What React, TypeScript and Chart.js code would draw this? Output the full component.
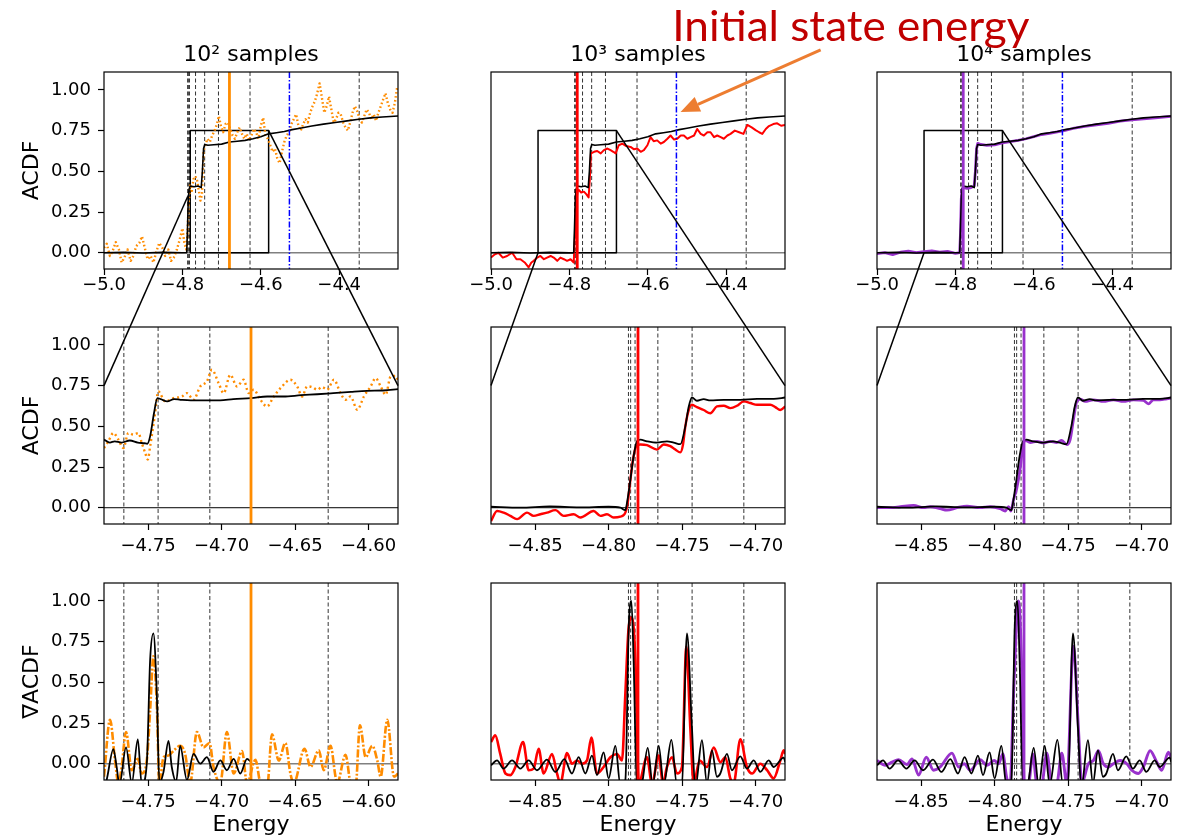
import React, { useEffect, useRef } from "react";
import { Chart, registerables } from "chart.js";

Chart.register(...registerables);
Chart.defaults.font.family = "'DejaVu Sans', sans-serif";
Chart.defaults.color = "#000";

type Pair = [number, number];

// ---------------- text / ticks ----------------
const TITLES = ["10\u00b2 samples", "10\u00b3 samples", "10\u2074 samples"];
const Y_LABELS = ["ACDF", "ACDF", "\u2207ACDF"];
const X_LABEL = "Energy";
const ANNOTATION = "Initial state energy";
const Y_TICKS = [0, 0.25, 0.5, 0.75, 1.0];
const TOP_X_TICKS = [-5.0, -4.8, -4.6, -4.4];
const LEFT_ZOOM_X_TICKS = [-4.75, -4.7, -4.65, -4.6];
const RIGHT_ZOOM_X_TICKS = [-4.85, -4.8, -4.75, -4.7];

// ---------------- ranges / reference energies ----------------
const TOP_RANGE = [-5.0, -4.25];
const ZOOM_RANGES = [
  [-4.78, -4.58],
  [-4.88, -4.68],
  [-4.88, -4.68],
];
const Y_RANGE = [-0.1, 1.11];
const BOX_TOP = 0.75;
const EIGENVALUES = [-4.7865, -4.785, -4.782, -4.7665, -4.7432, -4.708, -4.6275, -4.349];
const INITIAL_STATE_ENERGY = -4.527;
const ESTIMATES = [-4.68, -4.78, -4.78];
const COLORS = ["#ff8c00", "#ff0000", "#9932cc"];
const CONNECT_FROM: Pair[] = [
  [-4.7865, 0.345],
  [-4.88, 0],
  [-4.88, 0],
];
const ARROW_TAIL: Pair = [-4.159, 1.2465];
const ARROW_TIP: Pair = [-4.5165, 0.8645];
const ANNOT_AT: Pair = [-4.082, 1.2976];

// ---------------- top row ----------------
const TOP_EXACT: Pair[] = [
  [-5.0, 0], [-4.95, 0.002], [-4.9, -0.002], [-4.85, 0.002], [-4.8, 0], [-4.789, 0], [-4.787, 0.15],
  [-4.785, 0.33], [-4.783, 0.39], [-4.78, 0.41], [-4.77, 0.405], [-4.76, 0.41], [-4.752, 0.4],
  [-4.749, 0.5], [-4.746, 0.64], [-4.743, 0.665], [-4.735, 0.66], [-4.72, 0.663], [-4.7, 0.667],
  [-4.68, 0.68], [-4.66, 0.685], [-4.64, 0.69], [-4.62, 0.7], [-4.6, 0.712], [-4.58, 0.73],
  [-4.56, 0.737], [-4.54, 0.745], [-4.52, 0.756], [-4.5, 0.765], [-4.47, 0.778], [-4.44, 0.79],
  [-4.41, 0.8], [-4.38, 0.81], [-4.35, 0.82], [-4.32, 0.828], [-4.29, 0.834], [-4.25, 0.84],
];

const TOP_ORANGE: Pair[] = [
  [-5.0, 0.03], [-4.993, 0.055], [-4.985, -0.02], [-4.978, 0.01], [-4.97, 0.065], [-4.962, 0.02],
  [-4.955, -0.06], [-4.948, -0.03], [-4.94, 0.02], [-4.932, -0.05], [-4.925, -0.02], [-4.918, 0.04],
  [-4.91, 0.06], [-4.903, 0.1], [-4.896, 0.03], [-4.889, -0.04], [-4.881, -0.02], [-4.874, -0.06],
  [-4.866, 0.01], [-4.859, 0.06], [-4.851, 0.03], [-4.844, -0.02], [-4.836, 0.02], [-4.829, -0.05],
  [-4.822, -0.03], [-4.814, 0.02], [-4.807, 0.08], [-4.8, 0.15], [-4.795, 0.06], [-4.79, 0.02],
  [-4.787, 0.12], [-4.784, 0.3], [-4.78, 0.42], [-4.776, 0.38], [-4.772, 0.45], [-4.767, 0.47],
  [-4.762, 0.44], [-4.758, 0.38], [-4.754, 0.32], [-4.75, 0.36], [-4.746, 0.62], [-4.742, 0.66],
  [-4.736, 0.7], [-4.73, 0.68], [-4.724, 0.72], [-4.718, 0.75], [-4.712, 0.79], [-4.707, 0.84],
  [-4.702, 0.78], [-4.696, 0.74], [-4.69, 0.79], [-4.684, 0.8], [-4.678, 0.76], [-4.672, 0.72],
  [-4.666, 0.7], [-4.66, 0.74], [-4.654, 0.77], [-4.648, 0.73], [-4.642, 0.7], [-4.636, 0.73],
  [-4.63, 0.69], [-4.624, 0.72], [-4.618, 0.76], [-4.612, 0.74], [-4.606, 0.7], [-4.6, 0.78],
  [-4.594, 0.83], [-4.588, 0.72], [-4.582, 0.7], [-4.576, 0.66], [-4.57, 0.62], [-4.564, 0.64],
  [-4.558, 0.58], [-4.552, 0.55], [-4.546, 0.62], [-4.54, 0.68], [-4.534, 0.72], [-4.528, 0.74],
  [-4.522, 0.79], [-4.516, 0.82], [-4.51, 0.85], [-4.504, 0.78], [-4.498, 0.75], [-4.492, 0.79],
  [-4.486, 0.82], [-4.48, 0.8], [-4.474, 0.86], [-4.468, 0.9], [-4.462, 0.93], [-4.456, 0.98],
  [-4.45, 1.04], [-4.444, 0.95], [-4.438, 0.86], [-4.432, 0.9], [-4.426, 0.96], [-4.42, 0.88],
  [-4.414, 0.8], [-4.408, 0.82], [-4.402, 0.86], [-4.396, 0.85], [-4.39, 0.8], [-4.384, 0.77],
  [-4.378, 0.75], [-4.372, 0.8], [-4.366, 0.86], [-4.36, 0.9], [-4.354, 0.87], [-4.348, 0.82],
  [-4.342, 0.8], [-4.336, 0.84], [-4.33, 0.88], [-4.324, 0.86], [-4.318, 0.82], [-4.312, 0.85],
  [-4.306, 0.81], [-4.3, 0.86], [-4.294, 0.9], [-4.288, 0.94], [-4.282, 0.98], [-4.276, 0.92],
  [-4.27, 0.88], [-4.264, 0.86], [-4.258, 0.92], [-4.252, 1.02],
];

const TOP_RED: Pair[] = [
  [-5.0, -0.03], [-4.99, -0.01], [-4.981, 0.0], [-4.97, -0.03], [-4.959, -0.02], [-4.946, 0.0],
  [-4.935, -0.04], [-4.925, -0.04], [-4.914, -0.06], [-4.904, -0.09], [-4.897, -0.06], [-4.891, -0.05],
  [-4.882, -0.03], [-4.874, -0.02], [-4.865, -0.04], [-4.857, -0.03], [-4.848, -0.02], [-4.84, -0.03],
  [-4.831, -0.05], [-4.823, -0.03], [-4.814, -0.04], [-4.806, -0.05], [-4.797, -0.04], [-4.789, -0.06],
  [-4.786, 0.1], [-4.783, 0.3], [-4.779, 0.38], [-4.776, 0.385], [-4.77, 0.37], [-4.763, 0.375],
  [-4.757, 0.36], [-4.751, 0.34], [-4.748, 0.45], [-4.745, 0.61], [-4.737, 0.62], [-4.729, 0.625],
  [-4.72, 0.61], [-4.712, 0.63], [-4.703, 0.64], [-4.695, 0.63], [-4.688, 0.62], [-4.682, 0.61],
  [-4.674, 0.66], [-4.665, 0.67], [-4.655, 0.655], [-4.644, 0.65], [-4.635, 0.635], [-4.627, 0.64],
  [-4.618, 0.62], [-4.61, 0.63], [-4.601, 0.66], [-4.593, 0.71], [-4.585, 0.685], [-4.576, 0.69],
  [-4.567, 0.67], [-4.559, 0.68], [-4.55, 0.7], [-4.542, 0.72], [-4.533, 0.695], [-4.525, 0.7],
  [-4.516, 0.72], [-4.508, 0.72], [-4.499, 0.7], [-4.491, 0.71], [-4.482, 0.72], [-4.474, 0.76],
  [-4.465, 0.73], [-4.457, 0.72], [-4.448, 0.74], [-4.44, 0.74], [-4.431, 0.71], [-4.423, 0.72],
  [-4.414, 0.71], [-4.406, 0.7], [-4.397, 0.72], [-4.389, 0.73], [-4.378, 0.75], [-4.367, 0.74],
  [-4.356, 0.73], [-4.346, 0.785], [-4.335, 0.77], [-4.325, 0.753], [-4.316, 0.74], [-4.308, 0.73],
  [-4.299, 0.76], [-4.291, 0.778], [-4.28, 0.79], [-4.27, 0.795], [-4.26, 0.78], [-4.25, 0.785],
];

const TOP_PURPLE: Pair[] = [
  [-5.0, -0.005], [-4.98, 0.0], [-4.96, -0.012], [-4.94, 0.003], [-4.92, 0.01], [-4.9, 0.0],
  [-4.88, 0.006], [-4.86, 0.012], [-4.84, 0.003], [-4.82, 0.008], [-4.8, -0.004], [-4.789, 0.0],
  [-4.787, 0.12], [-4.785, 0.33], [-4.783, 0.39], [-4.78, 0.4], [-4.77, 0.395], [-4.76, 0.4],
  [-4.752, 0.41], [-4.749, 0.5], [-4.746, 0.64], [-4.743, 0.672], [-4.735, 0.665], [-4.72, 0.66],
  [-4.7, 0.662], [-4.68, 0.675], [-4.66, 0.683], [-4.64, 0.69], [-4.62, 0.7], [-4.6, 0.713],
  [-4.58, 0.726], [-4.56, 0.733], [-4.54, 0.742], [-4.52, 0.752], [-4.5, 0.763], [-4.47, 0.776],
  [-4.44, 0.786], [-4.41, 0.795], [-4.38, 0.808], [-4.35, 0.816], [-4.32, 0.822], [-4.29, 0.828],
  [-4.27, 0.833], [-4.25, 0.838],
];

// ---------------- middle row ----------------
const MID_LEFT_EXACT: Pair[] = [
  [-4.78, 0.418], [-4.776, 0.4], [-4.7727, 0.408], [-4.768, 0.4], [-4.7625, 0.413], [-4.757, 0.4],
  [-4.7525, 0.396], [-4.7505, 0.393], [-4.7486, 0.44], [-4.746, 0.58], [-4.7437, 0.673],
  [-4.7414, 0.667], [-4.737, 0.653], [-4.7323, 0.667], [-4.728, 0.663], [-4.721, 0.659],
  [-4.71, 0.659], [-4.701, 0.659], [-4.692, 0.667], [-4.68, 0.673], [-4.669, 0.683], [-4.658, 0.683],
  [-4.646, 0.691], [-4.635, 0.697], [-4.624, 0.704], [-4.612, 0.712], [-4.601, 0.718], [-4.59, 0.72],
  [-4.58, 0.728],
];

const MID_LEFT_ORANGE: Pair[] = [
  [-4.78, 0.367], [-4.777, 0.408], [-4.7736, 0.459], [-4.7702, 0.418], [-4.7668, 0.367],
  [-4.7634, 0.459], [-4.76, 0.449], [-4.7566, 0.459], [-4.7543, 0.398], [-4.752, 0.337],
  [-4.7502, 0.296], [-4.7486, 0.378], [-4.7457, 0.55], [-4.743, 0.714], [-4.7384, 0.653],
  [-4.7327, 0.673], [-4.727, 0.683], [-4.7236, 0.704], [-4.7191, 0.663], [-4.7145, 0.745],
  [-4.71, 0.776], [-4.7066, 0.847], [-4.702, 0.765], [-4.6986, 0.704], [-4.6941, 0.816],
  [-4.6895, 0.745], [-4.685, 0.786], [-4.6816, 0.704], [-4.6782, 0.725], [-4.6736, 0.663],
  [-4.6691, 0.622], [-4.6645, 0.683], [-4.6589, 0.745], [-4.6532, 0.786], [-4.6486, 0.745],
  [-4.6452, 0.683], [-4.6418, 0.745], [-4.6384, 0.741], [-4.635, 0.725], [-4.6316, 0.741],
  [-4.6282, 0.725], [-4.6236, 0.786], [-4.6191, 0.704], [-4.6157, 0.663], [-4.6123, 0.683],
  [-4.6077, 0.602], [-4.6032, 0.683], [-4.5986, 0.745], [-4.5952, 0.796], [-4.5918, 0.745],
  [-4.5884, 0.694], [-4.585, 0.806], [-4.5816, 0.81], [-4.5793, 0.765],
];

const MID_EXACT: Pair[] = [
  [-4.88, 0.006], [-4.86, 0.0], [-4.84, 0.008], [-4.82, 0.002], [-4.8, 0.006], [-4.792, 0.0],
  [-4.7886, -0.015], [-4.7875, 0.03], [-4.7852, 0.17], [-4.783, 0.316], [-4.7807, 0.408],
  [-4.7784, 0.418], [-4.7739, 0.408], [-4.767, 0.4], [-4.7603, 0.408], [-4.7557, 0.4],
  [-4.7512, 0.39], [-4.7478, 0.5], [-4.7455, 0.62], [-4.7433, 0.677], [-4.7399, 0.657],
  [-4.7353, 0.667], [-4.7308, 0.659], [-4.7217, 0.663], [-4.7104, 0.663], [-4.699, 0.669],
  [-4.6876, 0.669], [-4.6798, 0.677],
];

const MID_RED: Pair[] = [
  [-4.88, -0.082], [-4.8759, -0.02], [-4.8714, -0.03], [-4.8668, -0.05], [-4.8623, -0.07],
  [-4.8555, -0.03], [-4.851, -0.05], [-4.8464, -0.04], [-4.8419, -0.03], [-4.8362, -0.015],
  [-4.8306, -0.05], [-4.8238, -0.04], [-4.8192, -0.06], [-4.8102, -0.02], [-4.8056, -0.05],
  [-4.8011, -0.04], [-4.7966, -0.06], [-4.792, -0.055], [-4.7886, -0.03], [-4.787, 0.03],
  [-4.7852, 0.17], [-4.7834, 0.296], [-4.7811, 0.378], [-4.7784, 0.388], [-4.7739, 0.384],
  [-4.7671, 0.357], [-4.7625, 0.388], [-4.758, 0.378], [-4.7546, 0.357], [-4.7512, 0.34],
  [-4.7494, 0.387], [-4.7478, 0.5], [-4.7455, 0.6], [-4.7433, 0.632], [-4.7399, 0.618],
  [-4.7353, 0.6], [-4.7308, 0.58], [-4.7263, 0.622], [-4.7217, 0.626], [-4.7172, 0.612],
  [-4.7127, 0.626], [-4.7081, 0.653], [-4.7036, 0.643], [-4.699, 0.632], [-4.6945, 0.632],
  [-4.69, 0.632], [-4.6866, 0.618], [-4.6832, 0.6], [-4.6798, 0.622],
];

const MID_PURPLE: Pair[] = [
  [-4.88, 0.0], [-4.8709, 0.0], [-4.8641, 0.006], [-4.8551, 0.014], [-4.8483, 0.0], [-4.8438, 0.006],
  [-4.837, -0.006], [-4.8324, -0.015], [-4.8256, 0.0], [-4.8188, 0.01], [-4.8098, 0.0],
  [-4.803, 0.006], [-4.7962, -0.006], [-4.7928, -0.02], [-4.7905, 0.006], [-4.7889, -0.02],
  [-4.7871, 0.05], [-4.7849, 0.12], [-4.7826, 0.24], [-4.7808, 0.377], [-4.7792, 0.414],
  [-4.7758, 0.4], [-4.7713, 0.408], [-4.7667, 0.398], [-4.7622, 0.408], [-4.7577, 0.4],
  [-4.7543, 0.414], [-4.7509, 0.387], [-4.7486, 0.418], [-4.7464, 0.54], [-4.7441, 0.653],
  [-4.7418, 0.667], [-4.7384, 0.653], [-4.7328, 0.663], [-4.726, 0.653], [-4.7192, 0.663],
  [-4.7124, 0.653], [-4.7056, 0.663], [-4.6988, 0.659], [-4.6954, 0.638], [-4.692, 0.663],
  [-4.6875, 0.663], [-4.6829, 0.669], [-4.68, 0.673],
];

// ---------------- bottom row (gradient) ----------------
const BOT_LEFT_EXACT: Pair[] = [
  [-4.78, -0.15], [-4.7782, -0.1], [-4.7736, 0.09], [-4.7714, -0.02], [-4.7695, -0.13],
  [-4.765, 0.1], [-4.7611, -0.12], [-4.757, 0.15], [-4.7543, -0.13], [-4.7509, 0.0],
  [-4.7486, 0.64], [-4.7464, 0.8], [-4.7441, 0.43], [-4.7423, -0.12], [-4.7395, -0.05],
  [-4.7361, 0.14], [-4.7339, -0.02], [-4.7309, -0.11], [-4.7282, 0.11], [-4.7236, -0.1],
  [-4.7191, 0.06], [-4.7145, 0.0], [-4.71, 0.04], [-4.7055, -0.05], [-4.7009, 0.02],
  [-4.6964, -0.04], [-4.6918, 0.03], [-4.6873, -0.06], [-4.6827, 0.03], [-4.68, 0.01],
];

const BOT_LEFT_ORANGE: Pair[] = [
  [-4.78, -0.08], [-4.7759, 0.27], [-4.7725, 0.02], [-4.7702, -0.12], [-4.768, -0.02],
  [-4.765, 0.195], [-4.7611, -0.04], [-4.757, 0.03], [-4.7543, -0.06], [-4.7509, 0.02],
  [-4.7486, 0.33], [-4.7464, 0.66], [-4.7441, 0.37], [-4.7423, -0.12], [-4.7395, 0.04],
  [-4.7361, 0.05], [-4.7327, 0.08], [-4.7282, 0.11], [-4.7248, 0.06], [-4.7214, -0.12],
  [-4.7168, 0.195], [-4.7123, 0.1], [-4.7082, 0.127], [-4.7055, -0.02], [-4.7009, -0.12],
  [-4.6964, 0.195], [-4.6918, -0.06], [-4.6861, 0.078], [-4.6827, -0.12], [-4.677, 0.024],
  [-4.6736, -0.12], [-4.6691, -0.15], [-4.6657, 0.18], [-4.6611, 0.02], [-4.6566, 0.127],
  [-4.6532, -0.06], [-4.6509, -0.12], [-4.6436, 0.092], [-4.6395, -0.02], [-4.6339, 0.082],
  [-4.6305, -0.04], [-4.6259, 0.11], [-4.6225, -0.08], [-4.6214, -0.12], [-4.6157, 0.055],
  [-4.6123, -0.12], [-4.6089, -0.15], [-4.6059, 0.236], [-4.602, 0.04], [-4.5975, 0.11],
  [-4.5941, 0.02], [-4.5918, -0.08], [-4.5873, 0.27], [-4.5827, -0.08], [-4.58, -0.06],
];

const BOT_EXACT: Pair[] = [
  [-4.88, -0.01], [-4.8759, 0.02], [-4.8714, -0.03], [-4.8657, 0.02], [-4.86, -0.03],
  [-4.8544, 0.02], [-4.8487, -0.04], [-4.8419, 0.025], [-4.8362, -0.05], [-4.8301, 0.028],
  [-4.8249, -0.06], [-4.8204, 0.04], [-4.8158, -0.06], [-4.8113, 0.05], [-4.8079, -0.07],
  [-4.8034, 0.07], [-4.8, -0.09], [-4.7954, 0.11], [-4.792, -0.13], [-4.7886, -0.1],
  [-4.7863, 0.84], [-4.7845, 1.0], [-4.783, 0.64], [-4.7807, -0.15], [-4.7773, -0.12],
  [-4.7734, 0.097], [-4.77, -0.13], [-4.7659, 0.11], [-4.7625, -0.13], [-4.7573, 0.147],
  [-4.7535, -0.13], [-4.7501, -0.12], [-4.7467, 0.8], [-4.7433, 0.22], [-4.741, -0.15],
  [-4.7365, 0.144], [-4.7331, -0.12], [-4.7297, 0.082], [-4.7263, -0.08], [-4.724, -0.06],
  [-4.7195, 0.06], [-4.7161, -0.04], [-4.7104, 0.045], [-4.7059, -0.03], [-4.7013, 0.02],
  [-4.6968, -0.05], [-4.6911, 0.02], [-4.6877, -0.02], [-4.6809, 0.037], [-4.6798, 0.01],
];

const BOT_RED: Pair[] = [
  [-4.88, 0.133], [-4.8771, 0.174], [-4.8737, 0.06], [-4.8702, -0.06], [-4.8668, -0.07],
  [-4.8634, -0.02], [-4.8582, 0.133], [-4.8544, -0.04], [-4.851, -0.03], [-4.8476, 0.092],
  [-4.8442, -0.06], [-4.8385, 0.06], [-4.8351, -0.06], [-4.8328, -0.12], [-4.8283, 0.066],
  [-4.8249, 0.0], [-4.8215, 0.02], [-4.8181, 0.0], [-4.8147, 0.02], [-4.8117, 0.16],
  [-4.8079, -0.06], [-4.8034, -0.02], [-4.7988, 0.04], [-4.7943, 0.06], [-4.7909, 0.02],
  [-4.7886, 0.43], [-4.7863, 0.84], [-4.7841, 0.9], [-4.7818, 0.64], [-4.7795, -0.12],
  [-4.7739, 0.04], [-4.7705, -0.12], [-4.7659, 0.05], [-4.763, -0.12], [-4.7603, -0.02],
  [-4.7569, 0.04], [-4.7535, -0.06], [-4.7501, -0.02], [-4.7471, 0.72], [-4.7444, 0.22],
  [-4.7421, -0.12], [-4.7381, 0.02], [-4.7331, -0.02], [-4.7285, 0.1], [-4.724, 0.01],
  [-4.7206, 0.04], [-4.7172, -0.09], [-4.7149, -0.12], [-4.7104, 0.15], [-4.7059, -0.02],
  [-4.7024, -0.06], [-4.6968, 0.0], [-4.6922, -0.04], [-4.6877, -0.09], [-4.6832, 0.02],
  [-4.6809, 0.082], [-4.6798, 0.06],
];

const BOT_PURPLE: Pair[] = [
  [-4.88, 0.02], [-4.8743, -0.01], [-4.8698, 0.01], [-4.8653, 0.025], [-4.8596, -0.005],
  [-4.8562, 0.03], [-4.8517, -0.07], [-4.8465, 0.04], [-4.8415, -0.04], [-4.837, -0.02],
  [-4.829, 0.065], [-4.8245, -0.02], [-4.8207, 0.0], [-4.8166, -0.04], [-4.8098, 0.025],
  [-4.8052, -0.01], [-4.8003, 0.02], [-4.7973, 0.0], [-4.7944, 0.06], [-4.7917, -0.09],
  [-4.7894, -0.12], [-4.7871, 0.43], [-4.7837, 1.0], [-4.7815, 0.575], [-4.7799, -0.12],
  [-4.7769, -0.12], [-4.774, 0.06], [-4.7713, -0.12], [-4.7679, -0.12], [-4.7645, 0.065],
  [-4.7611, -0.12], [-4.7577, -0.12], [-4.7543, 0.065], [-4.7509, -0.12], [-4.7464, 0.72],
  [-4.743, 0.22], [-4.7407, -0.12], [-4.7362, 0.0], [-4.7328, 0.02], [-4.7294, 0.08],
  [-4.726, 0.0], [-4.7226, -0.02], [-4.7192, 0.0], [-4.7146, 0.02], [-4.7101, 0.0],
  [-4.7067, -0.04], [-4.7022, -0.06], [-4.6988, -0.02], [-4.6942, 0.08], [-4.6897, 0.01],
  [-4.6863, -0.04], [-4.6818, 0.07], [-4.68, 0.04],
];

// ---------------- layout (pixels) ----------------
const FIG_W = 1184;
const FIG_H = 838;
const COL_LEFT = [104, 491, 877];
const ROW_TOP = [72, 327, 583];
const PLOT_W = 294;
const PLOT_H = 197;
const Y_AXIS_W = 85;
const X_AXIS_H = [34, 34, 58];
const X_TICK_PAD = [0, 6, 6];

interface Series {
  data: Pair[];
  color: string;
  width: number;
  dash?: number[];
  smooth?: boolean;
}
interface Panel {
  row: number;
  col: number;
  xRange: number[];
  xTicks: number[];
  xDec: number;
  series: Series[];
}

const BLACK = "#000000";

function buildPanels(): Panel[] {
  const [orange, red, purple] = COLORS;
  const box = (c: number): Pair[] => {
    const [a, b] = ZOOM_RANGES[c];
    return [[a, 0], [b, 0], [b, BOX_TOP], [a, BOX_TOP], [a, 0]];
  };
  const topColored: Series[] = [
    { data: TOP_ORANGE, color: orange, width: 2.4, dash: [1.6, 2.4] },
    { data: TOP_RED, color: red, width: 2.0 },
    { data: TOP_PURPLE, color: purple, width: 2.8 },
  ];
  const midExact = [MID_LEFT_EXACT, MID_EXACT, MID_EXACT];
  const midColored: Series[] = [
    { data: MID_LEFT_ORANGE, color: orange, width: 2.4, dash: [2, 3], smooth: true },
    { data: MID_RED, color: red, width: 2.4, smooth: true },
    { data: MID_PURPLE, color: purple, width: 2.8, smooth: true },
  ];
  const botExact = [BOT_LEFT_EXACT, BOT_EXACT, BOT_EXACT];
  const botColored: Series[] = [
    { data: BOT_LEFT_ORANGE, color: orange, width: 2.6, dash: [8, 2, 2, 2], smooth: true },
    { data: BOT_RED, color: red, width: 2.6, smooth: true },
    { data: BOT_PURPLE, color: purple, width: 2.9, smooth: true },
  ];
  const panels: Panel[] = [];
  for (let c = 0; c < 3; c++) {
    panels.push({
      row: 0, col: c, xRange: TOP_RANGE, xTicks: TOP_X_TICKS, xDec: 1,
      series: [
        { data: TOP_EXACT, color: BLACK, width: 1.6 },
        topColored[c],
        { data: box(c), color: BLACK, width: 1.5 },
      ],
    });
  }
  for (let c = 0; c < 3; c++) {
    panels.push({
      row: 1, col: c, xRange: ZOOM_RANGES[c], xTicks: c === 0 ? LEFT_ZOOM_X_TICKS : RIGHT_ZOOM_X_TICKS, xDec: 2,
      series: [{ data: midExact[c], color: BLACK, width: 1.8, smooth: true }, midColored[c]],
    });
  }
  for (let c = 0; c < 3; c++) {
    panels.push({
      row: 2, col: c, xRange: ZOOM_RANGES[c], xTicks: c === 0 ? LEFT_ZOOM_X_TICKS : RIGHT_ZOOM_X_TICKS, xDec: 2,
      series: [{ data: botExact[c], color: BLACK, width: 1.8, smooth: true }, botColored[c]],
    });
  }
  return panels;
}

const PANELS = buildPanels();

const fmt = (v: number, d: number) => (v < 0 ? "\u2212" : "") + Math.abs(v).toFixed(d);

function strokeLine(ctx: CanvasRenderingContext2D, x1: number, y1: number, x2: number, y2: number) {
  ctx.beginPath();
  ctx.moveTo(x1, y1);
  ctx.lineTo(x2, y2);
  ctx.stroke();
}

function decorPlugin(p: Panel, charts: Chart[]) {
  return {
    id: `decor_${p.row}_${p.col}`,
    beforeDatasetsDraw(chart: any) {
      const { ctx, chartArea: a } = chart;
      const xs = chart.scales.x;
      const ys = chart.scales.y;
      ctx.save();
      ctx.beginPath();
      ctx.rect(a.left, a.top, a.right - a.left, a.bottom - a.top);
      ctx.clip();
      const y0 = ys.getPixelForValue(0);
      ctx.strokeStyle = p.row === 1 ? "#000" : "#808080";
      ctx.lineWidth = p.row === 1 ? 1 : 1.6;
      strokeLine(ctx, a.left, y0, a.right, y0);
      ctx.setLineDash([4, 2.5]);
      ctx.lineWidth = 1;
      ctx.strokeStyle = "rgba(0,0,0,0.8)";
      EIGENVALUES.forEach((e) => {
        if (e >= xs.min && e <= xs.max) {
          const px = xs.getPixelForValue(e);
          strokeLine(ctx, px, a.top, px, a.bottom);
        }
      });
      ctx.restore();
    },
    afterDatasetsDraw(chart: any) {
      const { ctx, chartArea: a } = chart;
      const xs = chart.scales.x;
      ctx.save();
      ctx.beginPath();
      ctx.rect(a.left, a.top, a.right - a.left, a.bottom - a.top);
      ctx.clip();
      if (p.row === 0) {
        const bx = xs.getPixelForValue(INITIAL_STATE_ENERGY);
        ctx.strokeStyle = "#0000ff";
        ctx.lineWidth = 1.5;
        ctx.setLineDash([6, 2, 1.5, 2]);
        strokeLine(ctx, bx, a.top, bx, a.bottom);
      }
      const ex = xs.getPixelForValue(ESTIMATES[p.col]);
      ctx.setLineDash([]);
      ctx.strokeStyle = COLORS[p.col];
      ctx.lineWidth = 2.8;
      strokeLine(ctx, ex, a.top, ex, a.bottom);
      ctx.restore();

      ctx.save();
      ctx.strokeStyle = "#000";
      ctx.lineWidth = 1.2;
      ctx.strokeRect(a.left, a.top, a.right - a.left, a.bottom - a.top);
      if (p.row === 0) {
        ctx.fillStyle = "#000";
        ctx.font = "22px 'DejaVu Sans'";
        ctx.textAlign = "center";
        ctx.textBaseline = "alphabetic";
        ctx.fillText(TITLES[p.col], (a.left + a.right) / 2, a.top - 11);
      }
      ctx.restore();
    },
    afterDraw(chart: any) {
      const ctx: CanvasRenderingContext2D = chart.ctx;
      if (p.row === 1) {
        const topChart: any = charts[p.col];
        if (!topChart) return;
        const tx = topChart.scales.x;
        const ty = topChart.scales.y;
        const mx = chart.scales.x;
        const my = chart.scales.y;
        const [x0, x1] = ZOOM_RANGES[p.col];
        const from = CONNECT_FROM[p.col];
        ctx.save();
        ctx.strokeStyle = "#000";
        ctx.lineWidth = 1.5;
        strokeLine(ctx, tx.getPixelForValue(from[0]), ty.getPixelForValue(from[1]), mx.getPixelForValue(x0), my.getPixelForValue(BOX_TOP));
        strokeLine(ctx, tx.getPixelForValue(x1), ty.getPixelForValue(BOX_TOP), mx.getPixelForValue(x1), my.getPixelForValue(BOX_TOP));
        ctx.restore();
      }
      if (p.row === 2 && p.col === 2) {
        const ref: any = charts[1];
        if (!ref) return;
        const sx = ref.scales.x;
        const sy = ref.scales.y;
        ctx.save();
        const x1 = sx.getPixelForValue(ARROW_TAIL[0]);
        const y1 = sy.getPixelForValue(ARROW_TAIL[1]);
        const x2 = sx.getPixelForValue(ARROW_TIP[0]);
        const y2 = sy.getPixelForValue(ARROW_TIP[1]);
        const ang = Math.atan2(y2 - y1, x2 - x1);
        const hl = 19;
        const hw = 8;
        const bx = x2 - hl * Math.cos(ang);
        const by = y2 - hl * Math.sin(ang);
        ctx.strokeStyle = "#ed7d31";
        ctx.fillStyle = "#ed7d31";
        ctx.lineWidth = 3;
        strokeLine(ctx, x1, y1, bx, by);
        ctx.beginPath();
        ctx.moveTo(x2, y2);
        ctx.lineTo(bx - hw * Math.sin(ang), by + hw * Math.cos(ang));
        ctx.lineTo(bx + hw * Math.sin(ang), by - hw * Math.cos(ang));
        ctx.closePath();
        ctx.fill();
        const cx = sx.getPixelForValue(ANNOT_AT[0]);
        const cy = sy.getPixelForValue(ANNOT_AT[1]);
        ctx.font = "42px Lato, 'Open Sans', sans-serif";
        const w = ctx.measureText(ANNOTATION).width;
        const target = 357;
        ctx.translate(cx, cy);
        ctx.scale(target / w, 1);
        ctx.fillStyle = "#c00000";
        ctx.textAlign = "center";
        ctx.textBaseline = "alphabetic";
        ctx.fillText(ANNOTATION, 0, 0);
        ctx.restore();
      }
    },
  };
}

function makeConfig(p: Panel, charts: Chart[]): any {
  const left = COL_LEFT[p.col];
  const top = ROW_TOP[p.row];
  const right = left + PLOT_W;
  const bottom = top + PLOT_H;
  const showY = p.col === 0;
  const yW = showY ? Y_AXIS_W : 0;
  const xH = X_AXIS_H[p.row];
  const datasets = p.series.map((s) => ({
    data: s.data.map(([x, y]) => ({ x, y })),
    borderColor: s.color,
    backgroundColor: s.color,
    borderWidth: s.width,
    borderDash: s.dash || [],
    pointRadius: 0,
    fill: false,
    tension: 0,
    cubicInterpolationMode: s.smooth ? "monotone" : "default",
    borderJoinStyle: "round",
    borderCapStyle: "butt",
  }));
  const grid = {
    display: true,
    drawOnChartArea: false,
    drawTicks: true,
    tickLength: 6,
    tickWidth: 1.2,
    tickColor: "#000",
  };
  return {
    type: "line",
    data: { datasets },
    options: {
      responsive: false,
      animation: false,
      events: [],
      layout: {
        padding: {
          left: left - yW,
          top,
          right: FIG_W - right,
          bottom: FIG_H - bottom - xH,
        },
      },
      plugins: {
        legend: { display: false },
        tooltip: { enabled: false },
        title: { display: false },
      },
      elements: { point: { radius: 0 } },
      scales: {
        x: {
          type: "linear",
          min: p.xRange[0],
          max: p.xRange[1],
          afterBuildTicks: (s: any) => {
            s.ticks = p.xTicks.map((v) => ({ value: v }));
          },
          afterFit: (s: any) => {
            s.height = xH;
          },
          ticks: {
            autoSkip: false,
            maxRotation: 0,
            minRotation: 0,
            padding: X_TICK_PAD[p.row],
            color: "#000",
            font: { size: 18 },
            callback: (v: number) => fmt(v, p.xDec),
          },
          grid,
          border: { display: false },
          title: {
            display: p.row === 2,
            text: X_LABEL,
            color: "#000",
            font: { size: 22 },
            padding: 0,
          },
        },
        y: {
          type: "linear",
          display: showY,
          min: Y_RANGE[0],
          max: Y_RANGE[1],
          afterBuildTicks: (s: any) => {
            s.ticks = Y_TICKS.map((v) => ({ value: v }));
          },
          afterFit: (s: any) => {
            s.width = yW;
          },
          ticks: {
            padding: 7,
            color: "#000",
            font: { size: 18 },
            callback: (v: number) => fmt(v, 2),
          },
          grid,
          border: { display: false },
          title: {
            display: showY,
            text: Y_LABELS[p.row],
            color: "#000",
            font: { size: 22 },
            padding: 0,
          },
        },
      },
    },
    plugins: [decorPlugin(p, charts)],
  };
}

export default function App() {
  const refs = useRef<(HTMLCanvasElement | null)[]>([]);
  useEffect(() => {
    const charts: Chart[] = [];
    PANELS.forEach((p, i) => {
      const cv = refs.current[i];
      if (!cv) return;
      charts.push(new Chart(cv, makeConfig(p, charts)));
    });
    return () => {
      charts.forEach((c) => c.destroy());
    };
  }, []);
  return (
    <div style={{ position: "absolute", left: 0, top: 0, width: FIG_W, height: FIG_H, background: "#fff", overflow: "hidden" }}>
      {PANELS.map((p, i) => (
        <canvas
          key={i}
          ref={(el) => {
            refs.current[i] = el;
          }}
          width={FIG_W}
          height={FIG_H}
          style={{ position: "absolute", left: 0, top: 0, width: FIG_W, height: FIG_H }}
        />
      ))}
    </div>
  );
}
